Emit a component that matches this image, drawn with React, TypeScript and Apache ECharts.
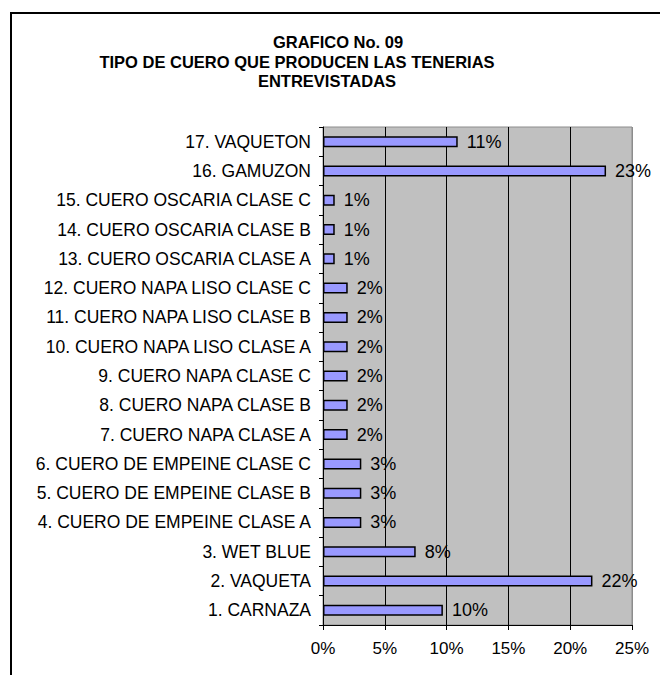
import React, { useEffect, useRef } from "react";
import * as echarts from "echarts";

const categories = [
  "1. CARNAZA",
  "2. VAQUETA",
  "3. WET BLUE",
  "4. CUERO DE EMPEINE CLASE A",
  "5. CUERO DE EMPEINE CLASE B",
  "6. CUERO DE EMPEINE CLASE C",
  "7. CUERO NAPA CLASE A",
  "8. CUERO NAPA CLASE B",
  "9. CUERO NAPA CLASE C",
  "10. CUERO NAPA LISO CLASE A",
  "11. CUERO NAPA LISO CLASE B",
  "12. CUERO NAPA LISO CLASE C",
  "13. CUERO OSCARIA CLASE A",
  "14. CUERO OSCARIA CLASE B",
  "15. CUERO OSCARIA CLASE C",
  "16. GAMUZON",
  "17. VAQUETON",
];

const values = [9.7, 21.8, 7.5, 3.1, 3.1, 3.1, 2.0, 2.0, 2.0, 2.0, 2.0, 2.0, 0.95, 0.95, 0.95, 22.9, 10.9];

const titleLines = [
  "GRAFICO No. 09",
  "TIPO DE CUERO QUE PRODUCEN LAS TENERIAS",
  "ENTREVISTADAS",
];

const FONT = "Arial, 'Liberation Sans', sans-serif";

export default function App() {
  const ref = useRef<HTMLDivElement>(null);

  useEffect(() => {
    if (!ref.current) return;
    const chart = echarts.init(ref.current, null, { renderer: "svg" });
    chart.setOption({
      animation: false,
      backgroundColor: "#ffffff",
      graphic: [
        {
          type: "rect",
          shape: { x: 11, y: 13, width: 800, height: 800 },
          style: { fill: "none", stroke: "#000", lineWidth: 2 },
          silent: true,
        },
        {
          type: "text",
          x: 338,
          y: 42,
          style: { text: titleLines[0], font: `bold 16.5px ${FONT}`, fill: "#000", align: "center", verticalAlign: "middle" },
        },
        {
          type: "text",
          x: 297,
          y: 62,
          style: { text: titleLines[1], font: `bold 16.5px ${FONT}`, fill: "#000", align: "center", verticalAlign: "middle" },
        },
        {
          type: "text",
          x: 327,
          y: 81,
          style: { text: titleLines[2], font: `bold 16.5px ${FONT}`, fill: "#000", align: "center", verticalAlign: "middle" },
        },
      ],
      grid: {
        left: 323,
        right: 28,
        top: 127,
        bottom: 50,
        show: true,
        backgroundColor: "#C0C0C0",
        borderColor: "#8c8c8c",
        borderWidth: 1,
      },
      xAxis: {
        type: "value",
        min: 0,
        max: 25,
        interval: 5,
        axisLine: { show: true, lineStyle: { color: "#000", width: 1 } },
        axisTick: { show: true, length: 5, lineStyle: { color: "#000" } },
        axisLabel: {
          formatter: "{value}%",
          color: "#000",
          fontSize: 17,
          fontFamily: FONT,
          margin: 15,
        },
        splitLine: {
          show: true,
          lineStyle: { color: ["#000", "#000", "#000", "#000", "#000", "#8c8c8c"], width: 1 },
        },
      },
      yAxis: {
        type: "category",
        data: categories,
        axisLine: { show: true, lineStyle: { color: "#000", width: 1 } },
        axisTick: { show: true, length: 4, lineStyle: { color: "#000" } },
        axisLabel: {
          color: "#000",
          fontSize: 17.5,
          fontFamily: FONT,
          margin: 12,
        },
        splitLine: { show: false },
      },
      series: [
        {
          type: "bar",
          data: values,
          barWidth: 11,
          itemStyle: { color: "#9999FF", borderColor: "#000", borderWidth: 1.5 },
          label: {
            show: true,
            position: "right",
            distance: 9,
            color: "#000",
            fontSize: 18,
            fontFamily: FONT,
            formatter: (p: any) => `${Math.round(p.value)}%`,
          },
        },
      ],
    });
    return () => chart.dispose();
  }, []);

  return (
    <div
      ref={ref}
      style={{ position: "fixed", left: 0, top: 0, width: 660, height: 675 }}
    />
  );
}
